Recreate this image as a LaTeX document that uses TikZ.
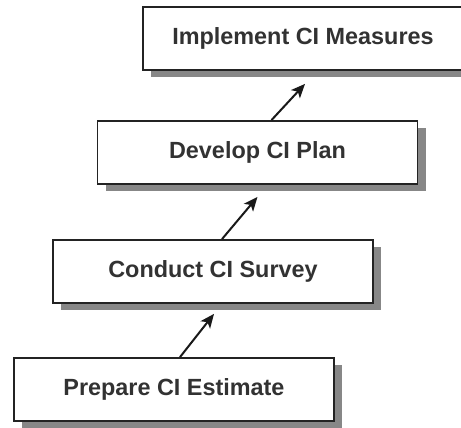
\documentclass[tikz,border=0pt]{standalone}
\usepackage{fontspec}
\setmainfont{Liberation Sans}
\usetikzlibrary{arrows.meta,shadows,calc}
\definecolor{shadowgray}{RGB}{135,135,135}
\definecolor{txtgray}{RGB}{50,50,50}
\definecolor{edgegray}{RGB}{35,35,35}
\begin{document}
\begin{tikzpicture}[x=1pt,y=-1pt,
  stepbox/.style={draw=edgegray,line width=1.8pt,fill=white,minimum width=320pt,minimum height=63pt,inner sep=0pt,
    text=txtgray,font=\fontsize{23.4}{28}\selectfont\bfseries,
    general shadow={fill=shadowgray,shadow xshift=8pt,shadow yshift=-7pt}},
  flow/.style={draw=black!90,line width=2pt,-{Stealth[length=14pt,width=12pt,inset=3.5pt]}}]
\useasboundingbox (0,0) rectangle (461,428);
\clip (0,0) rectangle (461,428);
\node[stepbox] (a) at (174,389.5) {Prepare CI Estimate};
\node[stepbox] (b) at (213,271.5) {Conduct CI Survey};
\node[stepbox] (c) at (257.5,152.5) {Develop CI Plan};
\node[stepbox] (d) at (303,38.5) {Implement CI Measures};
\draw[flow] ($(a.north)+(6,0)$) -- ($(b.south)+(1,10)$);
\draw[flow] ($(b.north)+(9,0)$) -- ($(c.south)+(0,12)$);
\draw[flow] ($(c.north)+(14,0)$) -- ($(d.south)+(2,13)$);
\end{tikzpicture}
\end{document}
